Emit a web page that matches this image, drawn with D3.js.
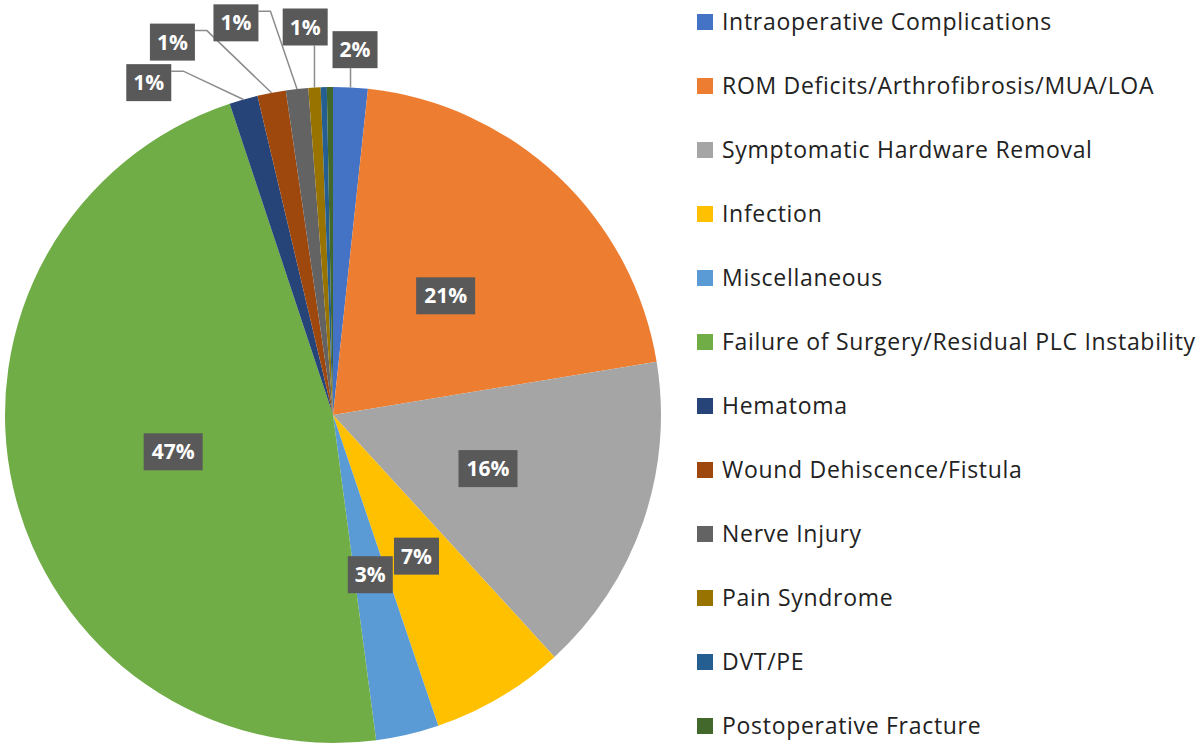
<!DOCTYPE html>
<html>
<head>
<meta charset="utf-8">
<script src="https://cdn.jsdelivr.net/npm/d3@7"></script>
<style>
  body { margin: 0; background: #fff; }
  text { font-family: "Open Sans", "Noto Sans", sans-serif; }
</style>
</head>
<body>
<div id="chart"></div>
<script>
(function(){
const width = 1200;
const height = 748;

// slices, clockwise from 12 o'clock
const categories = [
  "Intraoperative Complications",
  "ROM Deficits/Arthrofibrosis/MUA/LOA",
  "Symptomatic Hardware Removal",
  "Infection",
  "Miscellaneous",
  "Failure of Surgery/Residual PLC Instability",
  "Hematoma",
  "Wound Dehiscence/Fistula",
  "Nerve Injury",
  "Pain Syndrome",
  "DVT/PE",
  "Postoperative Fracture"
];
const values = [1.7, 20.7, 15.8, 6.6, 3.1, 47.0, 1.4, 1.4, 1.1, 0.6, 0.3, 0.3];
const labels = ["2%", "21%", "16%", "7%", "3%", "47%", "1%", "1%", "1%", "1%", "", ""];
const colors = ["#4472C4", "#ED7D31", "#A5A5A5", "#FFC000", "#5B9BD5", "#70AD47",
                "#264478", "#9E480E", "#636363", "#997300", "#255E91", "#43682B"];

const cx = 333, cy = 415, R = 328;

// labels pulled out of the pie: angle from top (deg), distance, leader style
const leaderPos = {
  0: [3.45, 366, "down"],
  6: [-29.0, 380, "side"],
  7: [-23.3, 406, "side"],
  8: [-13.9, 404, "side"],
  9: [-4.1, 389, "down"]
};

const svg = d3.select("#chart").append("svg")
  .attr("width", width)
  .attr("height", height);

const pie = d3.pie().sort(null).value(d => d);
const arcs = pie(values);
const arc = d3.arc().innerRadius(0).outerRadius(R);
const labelArc = d3.arc().innerRadius(R * 0.5).outerRadius(R * 0.5);

const g = svg.append("g").attr("transform", `translate(${cx},${cy})`);

g.selectAll("path.slice")
  .data(arcs)
  .join("path")
  .attr("class", "slice")
  .attr("d", arc)
  .attr("fill", (d, i) => colors[i]);

function polar(angDeg, r) {
  const a = angDeg * Math.PI / 180;
  return [r * Math.sin(a), -r * Math.cos(a)];
}

arcs.forEach((d, i) => {
  const txt = labels[i];
  if (!txt) return;
  const lp = leaderPos[i];
  const [x, y] = lp ? polar(lp[0], lp[1]) : labelArc.centroid(d);
  const bw = txt.length > 2 ? 59 : 45, bh = 37;

  if (lp) {
    const mid = ((d.startAngle + d.endAngle) / 2) * 180 / Math.PI;
    const edge = polar(mid, R);
    let pts;
    if (lp[2] === "down") {
      pts = [[edge[0], y + bh / 2], edge];
    } else {
      const sx = x + bw / 2;
      pts = [[sx, y - bh / 2 + 7], [sx + 12, y - bh / 2 + 7], edge];
    }
    g.append("polyline")
      .attr("points", pts.map(p => p.join(",")).join(" "))
      .attr("fill", "none")
      .attr("stroke", "#8c8c8c")
      .attr("stroke-width", 1.5);
  }

  g.append("rect")
    .attr("x", x - bw / 2)
    .attr("y", y - bh / 2)
    .attr("width", bw)
    .attr("height", bh)
    .attr("fill", "#595959");
  g.append("text")
    .attr("x", x)
    .attr("y", y)
    .attr("dy", "0.36em")
    .attr("text-anchor", "middle")
    .attr("fill", "#fff")
    .style("font-size", "21px")
    .style("font-weight", "bold")
    .text(txt);
});

// legend
const legend = svg.append("g").attr("transform", "translate(697,22)");
const rows = legend.selectAll("g")
  .data(categories)
  .join("g")
  .attr("transform", (d, i) => `translate(0,${i * 64})`);
rows.append("rect")
  .attr("x", 0).attr("y", -8)
  .attr("width", 16).attr("height", 16)
  .attr("fill", (d, i) => colors[i]);
rows.append("text")
  .attr("x", 25)
  .attr("dy", "0.36em")
  .attr("fill", "#222")
  .style("font-size", "23px")
  .style("letter-spacing", "0.7px")
  .text(d => d);
})();
</script>
</body>
</html>
